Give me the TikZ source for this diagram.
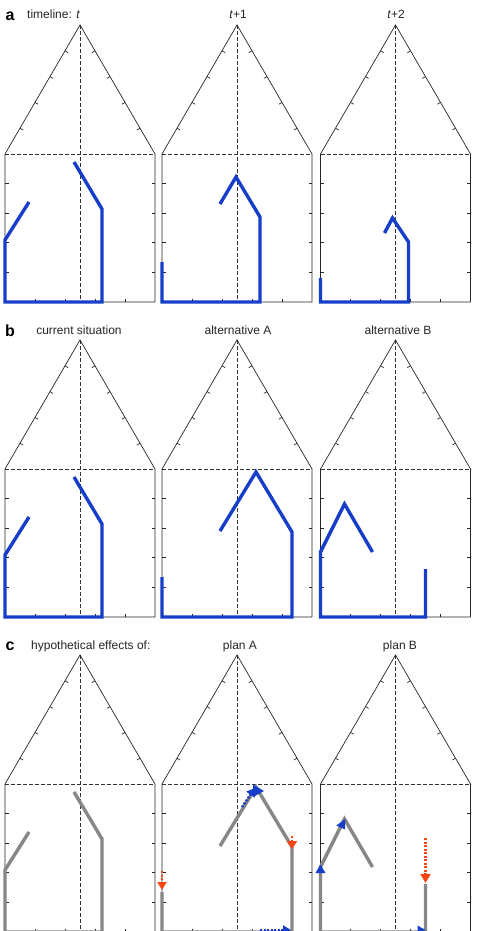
\documentclass[tikz,border=0pt]{standalone}
\usepackage{fontspec}
\setmainfont{Liberation Sans}
\usetikzlibrary{arrows.meta}
\definecolor{hblue}{RGB}{22,62,200}
\definecolor{hgray}{RGB}{135,135,135}
\definecolor{hred}{RGB}{250,70,20}
\tikzset{
  frame/.style={line width=0.7pt, black!85},
  dashln/.style={line width=0.6pt, black!80, dash pattern=on 4pt off 2pt},
  bl/.style={line width=3.4pt, hblue, line join=miter},
  gr/.style={line width=3.4pt, hgray, line join=miter},
  dotb/.style={line width=2.4pt, hblue, dash pattern=on 2pt off 1.5pt},
  dotr/.style={line width=2.4pt, hred, dash pattern=on 2pt off 1.5pt},
  lbl/.style={inner sep=0pt, anchor=base, text=black!85, font=\fontsize{12}{14}\selectfont},
  plbl/.style={inner sep=0pt, anchor=base, font=\fontsize{16}{18}\selectfont\bfseries},
}
\newcommand{\myhouse}[2]{%
  \begin{scope}[shift={(#1,#2)}]
    \draw[dashln] (0,154) -- (150,154);
    \draw[dashln] (75,25) -- (75,302);
    \draw[frame] (0,154) -- (75,25) -- (150,154) -- (150,302) -- (0,302) -- cycle;
    \foreach \k in {1,...,4} {
      \draw[frame] (0,{154+29.6*\k}) -- ++(3.5,0);
      \draw[frame] (150,{154+29.6*\k}) -- ++(-3.5,0);
      \draw[frame] ({30*\k},302) -- ++(0,-3.5);
      \draw[frame] ({15*\k},{154-25.8*\k}) -- ++(3.1,1.8);
      \draw[frame] ({150-15*\k},{154-25.8*\k}) -- ++(-3.1,1.8);
    }
  \end{scope}}
\begin{document}
\begin{tikzpicture}[x=1pt,y=-1pt]
\useasboundingbox (0,0) rectangle (478,931);
\clip (0,0) rectangle (478,931);
\fill[white] (0,0) rectangle (478,931);

% ---------- panel a ----------
\node[plbl] (la) at (10,21) {a};
\node[lbl, anchor=base west] (ta) at (27,19) {timeline: \textit{t}};
\node[lbl] (ta1) at (238,19) {\textit{t}+1};
\node[lbl] (ta2) at (396,19) {\textit{t}+2};
\myhouse{5}{0}
\myhouse{162}{0}
\myhouse{320.5}{0}
\begin{scope}[shift={(5,0)}]
  \draw[bl] (24,202) -- (0,240) -- (0,302) -- (97,302) -- (97,209) -- (69,162);
\end{scope}
\begin{scope}[shift={(162,0)}]
  \draw[bl] (0,262) -- (0,302) -- (98,302) -- (98,217) -- (74,177) -- (58,204);
\end{scope}
\begin{scope}[shift={(320.5,0)}]
  \draw[bl] (0,278) -- (0,302) -- (88,302) -- (88,242) -- (72,218) -- (64,233);
\end{scope}

% ---------- panel b ----------
\node[plbl] (lb) at (10,336) {b};
\node[lbl] (tb) at (79,334) {current situation};
\node[lbl] (tb1) at (238,334) {alternative A};
\node[lbl] (tb2) at (398,334) {alternative B};
\myhouse{5}{315}
\myhouse{162}{315}
\myhouse{320.5}{315}
\begin{scope}[shift={(5,315)}]
  \draw[bl] (24,202) -- (0,240) -- (0,302) -- (97,302) -- (97,209) -- (69,162);
\end{scope}
\begin{scope}[shift={(162,315)}]
  \draw[bl] (0,262) -- (0,302) -- (130,302) -- (130,217) -- (94,157) -- (58,216);
\end{scope}
\begin{scope}[shift={(320.5,315)}]
  \draw[bl] (52,237) -- (24,189) -- (0,237) -- (0,302) -- (105,302) -- (105,254);
\end{scope}

% ---------- panel c ----------
\node[plbl] (lc) at (10,650) {c};
\node[lbl, anchor=base west] (tc) at (31,649) {hypothetical effects of:};
\node[lbl] (tc1) at (240,649) {plan A};
\node[lbl] (tc2) at (400,649) {plan B};
\myhouse{5}{630}
\myhouse{162}{630}
\myhouse{320.5}{630}
\begin{scope}[shift={(5,630)}]
  \draw[gr] (24,202) -- (0,240) -- (0,302) -- (97,302) -- (97,209) -- (69,162);
\end{scope}
\begin{scope}[shift={(162,630)}]
  \draw[gr] (0,262) -- (0,302) -- (130,302) -- (130,217) -- (94,157) -- (58,216);
  \draw[dotr,-{Triangle[width=9pt,length=8pt]}] (0,241) -- (0,260);
  \draw[dotr,-{Triangle[width=10pt,length=8pt]}] (130,206) -- (130,219);
  \draw[dotb,-{Triangle[width=10pt,length=8pt]}] (80,177) -- (93,158);
  \fill[hblue] (91,154.5) -- (102,161) -- (91,167) -- cycle;
  \draw[dotb,-{Triangle[width=9pt,length=8pt]}] (98,300) -- (129,300);
\end{scope}
\begin{scope}[shift={(320.5,630)}]
  \draw[gr] (52,237) -- (24,189) -- (0,237) -- (0,302) -- (105,302) -- (105,254);
  \fill[hblue] (0,234.5) -- (-5,243) -- (5,243) -- cycle;
  \fill[hblue] (24.8,189) -- (24.6,199.5) -- (15.8,195.5) -- cycle;
  \draw[dotr,-{Triangle[width=10pt,length=9pt]}] (105,208) -- (105,253);
  \fill[hblue] (105,300) -- (97,295.5) -- (97,304.5) -- cycle;
\end{scope}
\end{tikzpicture}
\end{document}
